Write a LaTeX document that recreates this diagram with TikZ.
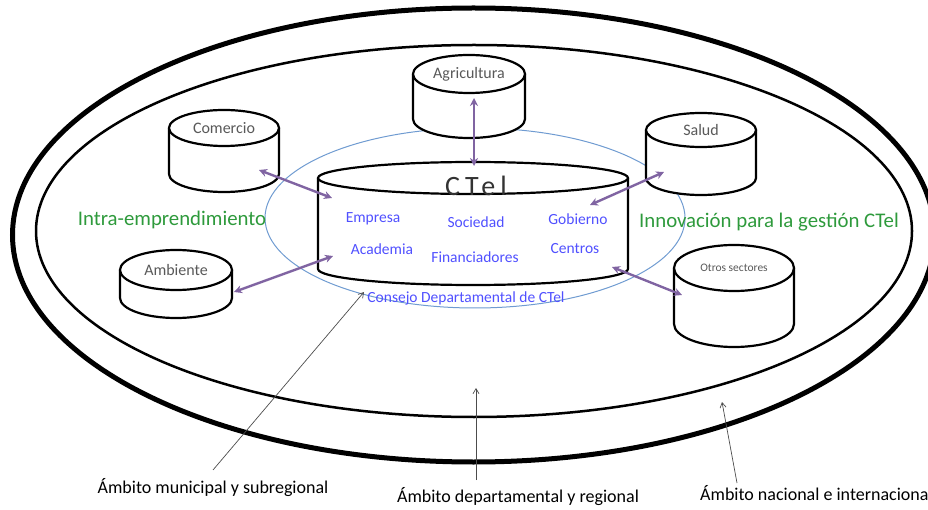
\documentclass[tikz,border=0pt]{standalone}
\usepackage{fontspec}
\setmainfont{Carlito}
\usetikzlibrary{shapes.geometric,arrows.meta}
\definecolor{purp}{HTML}{8064A2}
\definecolor{bluet}{HTML}{5050FF}
\definecolor{bluel}{HTML}{6F9BD1}
\definecolor{greent}{HTML}{2E9A3C}
\definecolor{grayt}{HTML}{595959}
\tikzset{
  cylline/.style={line width=2.2pt, draw=black, fill=white},
  cyllabel/.style={text=grayt, font=\fontsize{16}{18}\selectfont, inner sep=0pt},
  bluelabel/.style={text=bluet, font=\fontsize{15.5}{18}\selectfont, inner sep=0pt},
  greenlabel/.style={text=greent, font=\fontsize{20.8}{24}\selectfont, inner sep=0pt},
  ambito/.style={text=black, font=\fontsize{18}{21}\selectfont, inner sep=0pt},
  link/.style={draw=purp, line width=2.4pt, {Stealth[length=8pt,width=8pt]}-{Stealth[length=8pt,width=8pt]}},
  pointer/.style={draw=black!70, line width=0.7pt, -{Straight Barb[length=5pt,width=6pt]}},
}
% name, cx, ytop, ybot, rx, ry, label, label style
\newcommand\dbcyl[8]{%
  \draw[cylline] ({#2-#5},#3) -- ({#2-#5},#4) arc[start angle=180,end angle=0,x radius=#5,y radius=#6] -- ({#2+#5},#3);
  \draw[cylline] (#2,#3) ellipse[x radius=#5,y radius=#6];
  \node[cyllabel,#8] (#1) at (#2,#3) {#7};
}
\begin{document}
\begin{tikzpicture}[x=1pt,y=-1pt]
\useasboundingbox (0,0) rectangle (928,510);
% scopes
\node[ellipse, draw, line width=5pt, minimum width=922pt, minimum height=454pt, inner sep=0pt] (outer) at (473.5,235) {};
\node[ellipse, draw, line width=2.5pt, minimum width=876pt, minimum height=372pt, inner sep=0pt] (inner) at (474,231) {};
\node[ellipse, draw=bluel, line width=1pt, minimum width=420pt, minimum height=180pt, inner sep=0pt] (consejo) at (475,218) {};
% cylinders
\dbcyl{agri}{469}{74}{119}{56}{19}{Agricultura}{}
\dbcyl{com}{224}{128}{174}{55}{18}{Comercio}{}
\dbcyl{amb}{176}{270}{298}{56}{20}{Ambiente}{}
\dbcyl{salud}{701}{130}{178}{55}{17}{Salud}{}
\dbcyl{otros}{734}{268}{324}{60}{23}{Otros sectores}{font=\fontsize{11.5}{13}\selectfont}
\dbcyl{ctel}{473}{178}{269}{155}{16}{}{}
\node[inner sep=0pt, text=black!80, font=\fontsize{28}{30}\selectfont\addfontfeatures{LetterSpace=18}] (cteltitle) at (476,186) {CTel};
% inside CTel
\node[bluelabel] (empresa) at (373,219) {Empresa};
\node[bluelabel] (sociedad) at (476,222) {Sociedad};
\node[bluelabel] (gobierno) at (578,219) {Gobierno};
\node[bluelabel] (academia) at (382,249) {Academia};
\node[bluelabel] (financ) at (475,257) {Financiadores};
\node[bluelabel] (centros) at (575,249) {Centros};
\node[bluelabel] (consejolbl) at (466,298) {Consejo Departamental de CTel};
% green
\node[greenlabel] (intra) at (172,220) {Intra-emprendimiento};
\node[greenlabel] (innov) at (769,222) {Innovación para la gestión CTel};
% links
\coordinate (agriE) at (474,98);   \coordinate (ctelN) at (474,166);
\coordinate (comE) at (259,170);   \coordinate (ctelNW) at (332,198);
\coordinate (ambE) at (234,292);   \coordinate (ctelSW) at (333,256);
\coordinate (saludE) at (664,172); \coordinate (ctelNE) at (590,205);
\coordinate (otrosE) at (682,295); \coordinate (ctelSE) at (612,267);
\draw[link] (agriE) -- (ctelN);
\draw[link] (comE) -- (ctelNW);
\draw[link] (ambE) -- (ctelSW);
\draw[link] (ctelNE) -- (saludE);
\draw[link] (ctelSE) -- (otrosE);
% ambito labels
\node[ambito] (amun) at (213,488) {Ámbito municipal y subregional};
\node[ambito] (adep) at (518,497) {Ámbito departamental y regional};
\node[ambito, anchor=west] (anac) at (700,493) {Ámbito nacional e internacional};
\coordinate (munS) at (213,470); \coordinate (munT) at (364,292);
\coordinate (depS) at (476,480); \coordinate (depT) at (476,388);
\coordinate (nacS) at (737,483); \coordinate (nacT) at (722,402);
\draw[pointer] (munS) -- (munT);
\draw[pointer] (depS) -- (depT);
\draw[pointer] (nacS) -- (nacT);
\end{tikzpicture}
\end{document}
